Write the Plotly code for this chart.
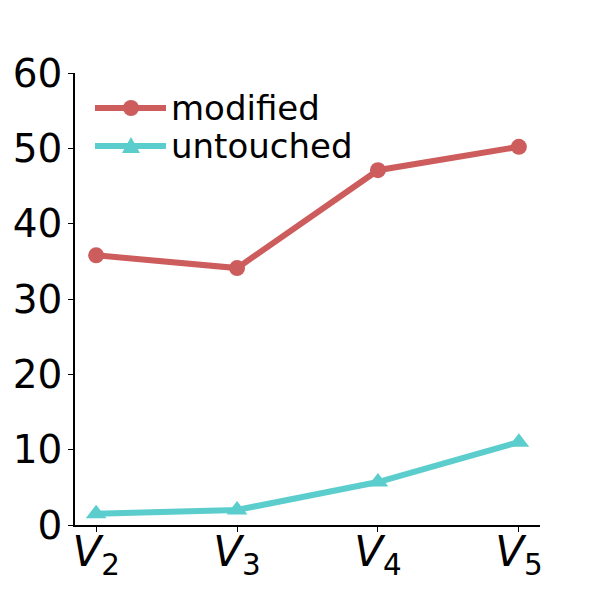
import plotly.graph_objects as go

categories = ["<i>V</i><sub>2</sub>", "<i>V</i><sub>3</sub>", "<i>V</i><sub>4</sub>", "<i>V</i><sub>5</sub>"]
modified = [35.8, 34.1, 47.1, 50.2]
untouched = [1.5, 2.0, 5.7, 11.0]
y_ticks = [0, 10, 20, 30, 40, 50, 60]
series_names = ["modified", "untouched"]
red = "#cd5c5c"
teal = "#5ccdcd"

x = list(range(len(categories)))

fig = go.Figure()
fig.add_trace(go.Scatter(
    x=x, y=modified, name=series_names[0], mode="lines+markers",
    line=dict(color=red, width=6),
    marker=dict(symbol="circle", size=16, color=red),
    showlegend=False,
))
fig.add_trace(go.Scatter(
    x=x, y=untouched, name=series_names[1], mode="lines+markers",
    line=dict(color=teal, width=6),
    marker=dict(symbol="triangle-up", size=18, color=teal),
    showlegend=False,
))

# custom legend (matplotlib-style, long handles, tight rows)
W, H = 465.0, 452.0  # plot area size in px
def px_x(p):
    return (p - 75) / W
def px_y(p):
    return (525 - p) / H

rows = [(108, red, "circle"), (146, teal, "triangle")]
for (yy, col, sym), name in zip(rows, series_names):
    fig.add_shape(type="line", xref="paper", yref="paper",
                  x0=px_x(95), x1=px_x(166), y0=px_y(yy), y1=px_y(yy),
                  line=dict(color=col, width=6))
    if sym == "circle":
        fig.add_shape(type="circle", xref="paper", yref="paper",
                      x0=px_x(131 - 8), x1=px_x(131 + 8),
                      y0=px_y(yy + 8), y1=px_y(yy - 8),
                      fillcolor=col, line=dict(color=col, width=0))
    else:
        x0, x1, xm = px_x(131 - 9), px_x(131 + 9), px_x(131)
        yb, yt = px_y(yy + 7), px_y(yy - 9)
        fig.add_shape(type="path", xref="paper", yref="paper",
                      path=f"M {x0} {yb} L {x1} {yb} L {xm} {yt} Z",
                      fillcolor=col, line=dict(color=col, width=0))
    fig.add_annotation(xref="paper", yref="paper", x=px_x(169), y=px_y(yy),
                       xanchor="left", yanchor="middle", text=name,
                       showarrow=False, font=dict(size=34, color="black"))

# page body has an 8px margin, so the figure is 592 px and margins are shifted
fig.update_layout(
    width=592, height=592,
    margin=dict(l=67, r=60, t=65, b=75),
    paper_bgcolor="white", plot_bgcolor="white",
    font=dict(family="DejaVu Sans", color="black"),
    showlegend=False,
    xaxis=dict(
        range=[-0.15, 3.15], automargin=False,
        tickmode="array", tickvals=x, ticktext=categories,
        showgrid=False, zeroline=False,
        showline=True, linecolor="black", linewidth=1.5,
        ticks="outside", ticklen=5, tickwidth=1.2, tickcolor="black",
        tickfont=dict(size=42, color="black"),
        ticklabelstandoff=-16,
    ),
    yaxis=dict(
        range=[0, 60], automargin=False,
        tickmode="array", tickvals=y_ticks,
        showgrid=False, zeroline=False,
        showline=True, linecolor="black", linewidth=1.5,
        ticks="outside", ticklen=5, tickwidth=1.2, tickcolor="black",
        tickfont=dict(size=39, color="black"),
        ticklabelstandoff=-2,
    ),
)

fig.write_html("out.html")
